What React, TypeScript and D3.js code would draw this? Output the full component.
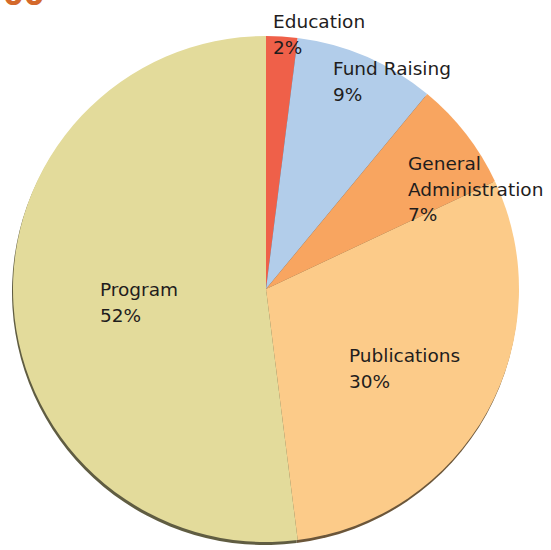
import { useEffect, useRef } from 'react'
import * as d3 from 'd3'

const categories = ['Education', 'Fund Raising', 'General Administration', 'Publications', 'Program']
const shares = [2, 9, 7, 30, 52]
const labelLines = [['Education'], ['Fund Raising'], ['General', 'Administration'], ['Publications'], ['Program']]
const colors = ['#ef6049', '#b2cdea', '#f8a560', '#fccb89', '#e3db9b']

// label anchors (left aligned), relative to pie center
const labelAnchor: [number, number][] = [
  [7, -261],
  [67, -214],
  [142, -119],
  [83, 73],
  [-166, 7],
]

const width = 551
const height = 550
const cx = 266
const cy = 289
const radius = 253

export default function App() {
  const ref = useRef<SVGSVGElement>(null)

  useEffect(() => {
    const svg = d3.select(ref.current)
    svg.selectAll('*').remove()

    const data = categories.map((c, i) => ({ name: c, value: shares[i], i }))
    const pie = d3.pie<any>().sort(null).value((d) => d.value)
    const arc = d3.arc<any>().innerRadius(0).outerRadius(radius)
    const arcs = pie(data)

    // cut-off title at the very top
    svg
      .append('text')
      .attr('x', 3)
      .attr('y', 5)
      .attr('font-family', 'DejaVu Sans')
      .attr('font-weight', 'bold')
      .attr('font-size', 30)
      .attr('fill', '#d4692b')
      .text('00')

    // rim / shadow
    svg
      .append('g')
      .attr('transform', `translate(${cx - 1},${cy + 3})`)
      .selectAll('path')
      .data(arcs)
      .join('path')
      .attr('d', arc)
      .attr('fill', (d: any) => d3.color(colors[d.data.i])!.darker(2.4).formatHex())

    const g = svg.append('g').attr('transform', `translate(${cx},${cy})`)
    g.selectAll('path')
      .data(arcs)
      .join('path')
      .attr('d', arc)
      .attr('fill', (d: any) => colors[d.data.i])

    const labels = g
      .selectAll('text.lbl')
      .data(data)
      .join('text')
      .attr('class', 'lbl')
      .attr('font-family', 'DejaVu Sans')
      .attr('font-size', 18.5)
      .attr('fill', '#1f1d1d')
      .attr('transform', (d) => `translate(${labelAnchor[d.i][0]},${labelAnchor[d.i][1]})`)

    labels.each(function (d) {
      const t = d3.select(this)
      const lines = [...labelLines[d.i], `${d.value}%`]
      lines.forEach((l, k) => {
        t.append('tspan').attr('x', 0).attr('y', k * 25.5).text(l)
      })
    })
  }, [])

  return (
    <svg
      ref={ref}
      width={width}
      height={height}
      style={{ position: 'absolute', left: 0, top: 0, background: '#fff' }}
    />
  )
}
